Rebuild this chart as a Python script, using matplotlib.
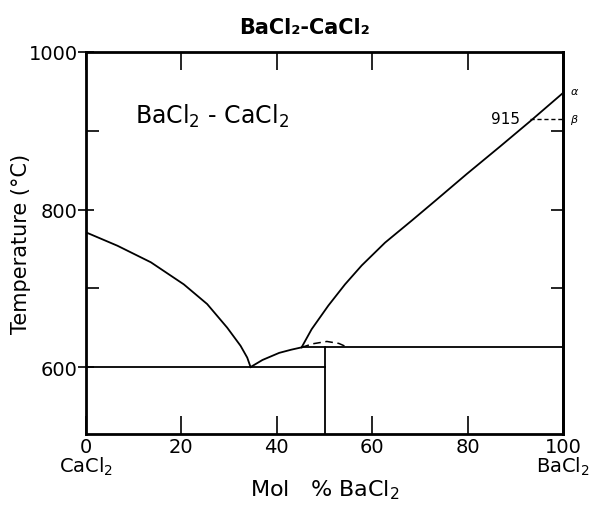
import matplotlib.pyplot as plt

# liquidus on CaCl2 side (mol % BaCl2, temperature C)
liq_ca_x = [0, 6.6, 13.6, 20.5, 25.4, 29.6, 32.4, 33.8, 34.5]
liq_ca_t = [771, 754, 733, 705, 680, 650, 627, 612, 600]

# short branch from eutectic to peritectic point
branch_x = [34.5, 37, 40.5, 43, 45.2]
branch_t = [600, 609, 618, 622, 625]

# liquidus on BaCl2 side
liq_ba_x = [45.2, 47.3, 50.8, 54.3, 57.8, 62.7, 68.3, 73.2, 79.8, 86.8, 93.1, 100]
liq_ba_t = [625, 648, 678, 705, 729, 758, 786, 811, 845, 880, 912, 948]

# dashed dome above the 625 line
dome_x = [45.2, 47.5, 50.5, 53, 54.5]
dome_t = [625, 629.5, 632.5, 630, 626]

eutectic_t = 600
peritectic_t = 625
compound_x = 50
transition_t = 915
transition_x = 93.1

fig = plt.figure(figsize=(5.98, 5.06), dpi=100)
ax = fig.add_axes([0.1438, 0.1403, 0.7977, 0.755])

lw = 1.3
ax.plot(liq_ca_x, liq_ca_t, color='black', lw=lw)
ax.plot(branch_x, branch_t, color='black', lw=lw)
ax.plot(liq_ba_x, liq_ba_t, color='black', lw=lw)
ax.plot(dome_x, dome_t, color='black', lw=1.1, ls=(0, (5, 3)))
ax.plot([0, compound_x], [eutectic_t, eutectic_t], color='black', lw=lw)
ax.plot([45.2, 100], [peritectic_t, peritectic_t], color='black', lw=lw)
ax.plot([compound_x, compound_x], [515, peritectic_t], color='black', lw=lw)
ax.plot([transition_x, 100], [transition_t, transition_t], color='black', lw=1.0, ls=(0, (3, 2)))

ax.text(transition_x - 2.2, transition_t, '915', ha='right', va='center', fontsize=11)
ax.text(101.5, 950, 'α', ha='left', va='center', fontsize=8, fontstyle='italic')
ax.text(101.5, 915, 'β', ha='left', va='center', fontsize=8, fontstyle='italic')
ax.text(10.3, 920, 'BaCl$_2$ - CaCl$_2$', ha='left', va='center', fontsize=17)

ax.set_xlim(0, 100)
ax.set_ylim(515, 1000)

ax.set_xticks([0, 20, 40, 60, 80, 100])
ax.set_xticklabels(['0\nCaCl$_2$', '20', '40', '60', '80', '100\nBaCl$_2$'], fontsize=14,
                   linespacing=0.95)
ax.set_yticks([600, 800, 1000])
ax.set_yticklabels(['600', '800', '1000'], fontsize=14)
ax.set_yticks([700, 900], minor=True)

ax.tick_params(axis='x', which='major', direction='in', length=13, width=1.2, top=True, pad=2)
ax.tick_params(axis='y', which='major', direction='inout', length=12, width=1.2, pad=0)
ax.tick_params(axis='y', which='minor', direction='in', length=9, width=1.2)

# inward ticks on the right side
right = ax.secondary_yaxis('right')
right.set_yticks([700, 800, 900])
right.set_yticklabels([])
right.tick_params(direction='in', length=9, width=1.2)
right.spines['right'].set_linewidth(2)

for s in ax.spines.values():
    s.set_linewidth(2)

ax.set_xlabel('Mol   % BaCl$_2$', fontsize=16, labelpad=0)
ax.set_ylabel('Temperature (°C)', fontsize=15)
ax.yaxis.set_label_coords(-0.115, 0.5)
fig.suptitle('BaCl₂-CaCl₂', fontsize=15, fontweight='bold', x=0.51, y=0.965)

plt.savefig('out.png', dpi=100)
